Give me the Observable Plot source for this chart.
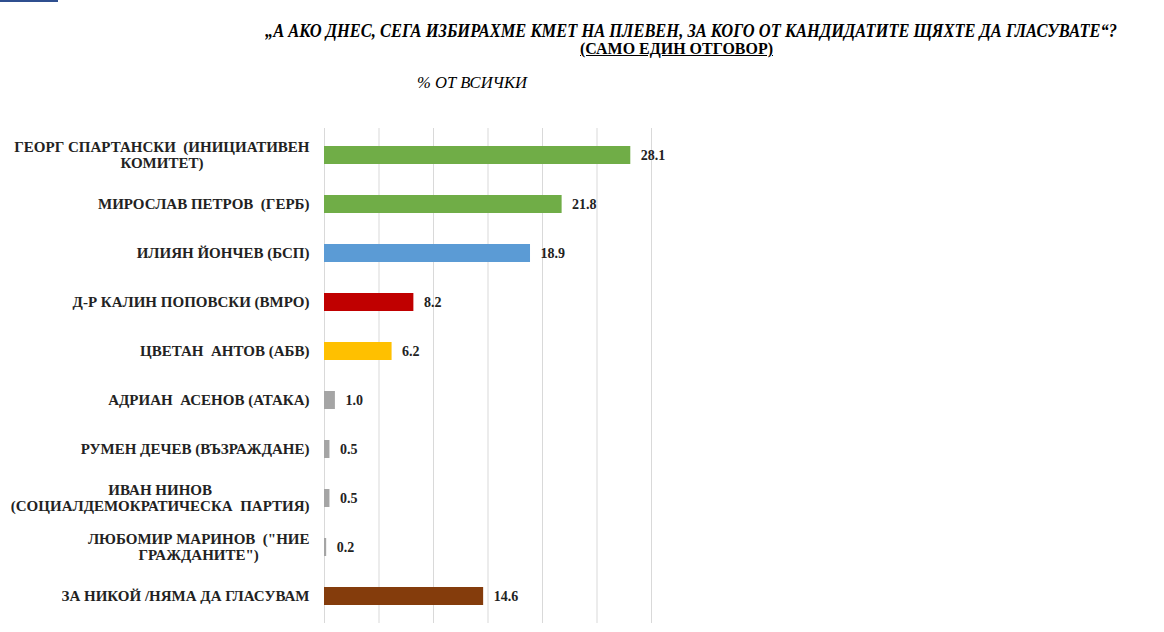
<!DOCTYPE html>
<html>
<head>
<meta charset="utf-8">
<script src="https://cdn.jsdelivr.net/npm/d3@7"></script>
<script src="https://cdn.jsdelivr.net/npm/@observablehq/plot@0.6"></script>
<style>
  html, body { margin: 0; padding: 0; background: #fff; }
  #wrap { position: relative; width: 1164px; height: 632px; overflow: hidden; font-family: "Liberation Serif", "Times New Roman", serif; }
  .t { position: absolute; white-space: pre; font-weight: bold; font-style: italic; color: #000; transform-origin: 0 0; line-height: 1; font-family: "Liberation Serif", serif; }
  #chart { position: absolute; left: 0; top: 0; }
  #chart svg, #chart svg text, #chart svg tspan { white-space: pre; font-family: "Liberation Serif", serif !important; }
  #corner { position: absolute; left: 0; top: 0; width: 58px; height: 2px; background: #2f4f8f; }
</style>
</head>
<body>
<div id="wrap">
  <div id="chart"></div>
  <div id="corner"></div>
  <div class="t" id="title">„А АКО ДНЕС, СЕГА ИЗБИРАХМЕ КМЕТ НА ПЛЕВЕН, ЗА КОГО ОТ КАНДИДАТИТЕ ЩЯХТЕ ДА ГЛАСУВАТЕ“?</div>
  <div class="t" id="sub" style="font-style: normal; text-decoration: underline;">(САМО ЕДИН ОТГОВОР)</div>
  <div class="t" id="unit" style="font-weight: normal;">% ОТ ВСИЧКИ</div>
</div>
<script>
const categories = [
  "ГЕОРГ СПАРТАНСКИ  (ИНИЦИАТИВЕН\nКОМИТЕТ)",
  "МИРОСЛАВ ПЕТРОВ  (ГЕРБ)",
  "ИЛИЯН ЙОНЧЕВ (БСП)",
  "Д-Р КАЛИН ПОПОВСКИ (ВМРО)",
  "ЦВЕТАН  АНТОВ (АБВ)",
  "АДРИАН  АСЕНОВ (АТАКА)",
  "РУМЕН ДЕЧЕВ (ВЪЗРАЖДАНЕ)",
  "ИВАН НИНОВ\n(СОЦИАЛДЕМОКРАТИЧЕСКА  ПАРТИЯ)",
  "ЛЮБОМИР МАРИНОВ  (\"НИЕ\nГРАЖДАНИТЕ\")",
  "ЗА НИКОЙ /НЯМА ДА ГЛАСУВАМ"
];
const values = [28.1, 21.8, 18.9, 8.2, 6.2, 1.0, 0.5, 0.5, 0.2, 14.6];
const barColors = ["#70ad47", "#70ad47", "#5b9bd5", "#c00000", "#ffc000", "#a5a5a5", "#a5a5a5", "#a5a5a5", "#a5a5a5", "#843c0c"];
const gridTicks = [0, 5, 10, 15, 20, 25, 30];

const data = categories.map((c, i) => ({ name: c, value: values[i], color: barColors[i] }));

const font = "'Liberation Serif', 'Times New Roman', serif";

const chart = Plot.plot({
  width: 1164,
  height: 632,
  marginTop: 128,
  marginBottom: 9,
  marginLeft: 324,
  marginRight: 513,
  style: { fontFamily: font, background: "transparent" },
  x: { domain: [0, 30], axis: null },
  y: { domain: categories, paddingInner: 0.636, paddingOuter: 0.318, axis: null },
  marks: [
    Plot.gridX(gridTicks, { stroke: "#d9d9d9", strokeOpacity: 1, strokeWidth: 1 }),
    Plot.barX(data, { x: "value", y: "name", fill: "color" }),
    Plot.text(data, {
      x: "value", y: "name", text: d => d.value.toFixed(1),
      textAnchor: "start", dx: 10, dy: 0,
      fontFamily: font, fontSize: 14, fontWeight: "bold", fill: "#222"
    }),
    Plot.axisY({
      label: null, tickSize: 0, tickPadding: 15, textAnchor: "end", lineHeight: 1.1,
      fontFamily: font, fontSize: 15, fontWeight: "bold", fill: "#222", dy: -1
    })
  ]
});
document.getElementById("chart").appendChild(chart);

// center multi-line axis labels within their block (block stays right-aligned)
chart.querySelectorAll("text").forEach(t => {
  const spans = t.querySelectorAll("tspan");
  if (spans.length < 2) return;
  let L = 0;
  spans.forEach(s => { L = Math.max(L, s.getComputedTextLength()); });
  t.setAttribute("text-anchor", "middle");
  spans.forEach(s => {
    const x0 = parseFloat(s.getAttribute("x") || "0");
    s.setAttribute("x", x0 - L / 2);
  });
});

// fit header texts to their spans in the reference
function place(id, left, right, top, size) {
  const el = document.getElementById(id);
  el.style.fontSize = size + "px";
  el.style.left = left + "px";
  el.style.top = top + "px";
  const w = el.getBoundingClientRect().width;
  el.style.transform = `scaleX(${(right - left) / w})`;
}
place("title", 265, 1117, 21, 19);
place("sub", 580, 773, 40, 17);
place("unit", 417, 527, 75, 16);
</script>
</body>
</html>
